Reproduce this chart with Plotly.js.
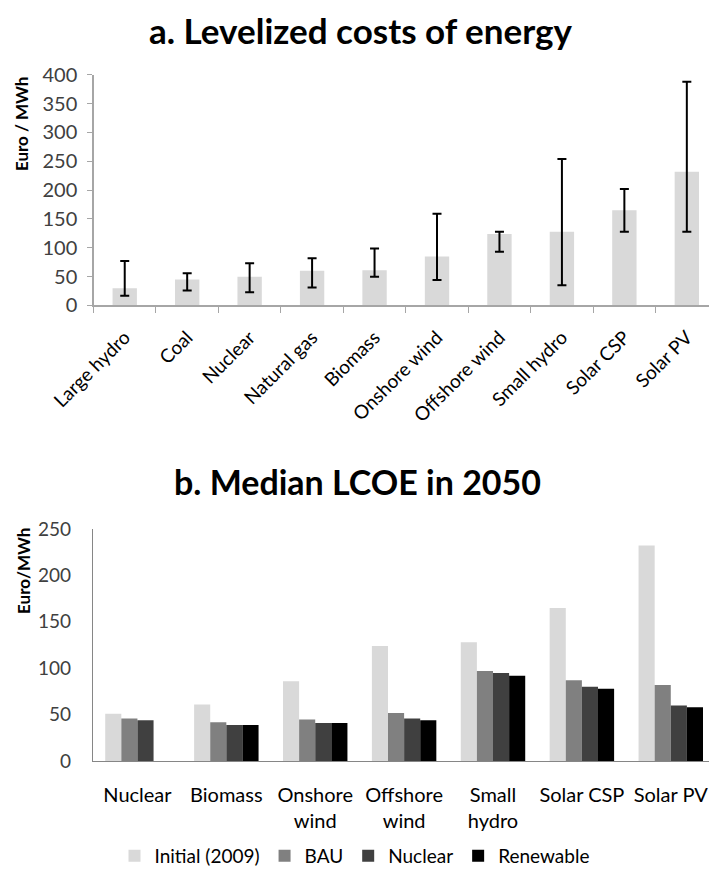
<!DOCTYPE html>
<html>
<head>
<meta charset="utf-8">
<script src="https://cdn.plot.ly/plotly-3.0.1.min.js"></script>
<style>html,body{margin:0;padding:0;background:#fff;}#chart{width:709px;height:875px;}</style>
</head>
<body>
<div id="chart"></div>
<script>
// ---- Data: chart a ----
var techA = ['Large hydro','Coal','Nuclear','Natural gas','Biomass','Onshore wind','Offshore wind','Small hydro','Solar CSP','Solar PV'];
var lcoeMid  = [30, 45, 50, 60, 61, 85, 124, 128, 165, 232];
var lcoeHigh = [77, 56, 73, 82, 99, 159, 128, 254, 202, 388];
var lcoeLow  = [17, 26, 23, 31, 50, 44, 93, 35, 128, 128];

// ---- Data: chart b ----
var techB = ['Nuclear','Biomass','Onshore<br>wind','Offshore<br>wind','Small<br>hydro','Solar CSP','Solar PV'];
var initial2009 = [51, 61, 86, 124, 128, 165, 232];
var bau         = [46, 42, 45, 52, 97, 87, 82];
var nuclearScn  = [44, 39, 41, 46, 95, 80, 60];
var renewable   = [null, 39, 41, 44, 92, 78, 58];

var FONT = 'Lato, "Open Sans", sans-serif';

var errPlus = lcoeHigh.map(function(h,i){return h - lcoeMid[i];});
var errMinus = lcoeLow.map(function(l,i){return lcoeMid[i] - l;});

var traces = [
  {type:'bar', x:techA, y:lcoeMid, xaxis:'x', yaxis:'y', width:0.39, showlegend:false,
   marker:{color:'#d9d9d9'},
   error_y:{type:'data', symmetric:false, array:errPlus, arrayminus:errMinus, color:'#000', thickness:2, width:4.5},
   hoverinfo:'x+y'},
  {type:'bar', name:'Initial (2009)', x:techB, y:initial2009, xaxis:'x2', yaxis:'y2', marker:{color:'#d9d9d9'}},
  {type:'bar', name:'BAU', x:techB, y:bau, xaxis:'x2', yaxis:'y2', marker:{color:'#808080'}},
  {type:'bar', name:'Nuclear', x:techB, y:nuclearScn, xaxis:'x2', yaxis:'y2', marker:{color:'#404040'}},
  {type:'bar', name:'Renewable', x:techB, y:renewable, xaxis:'x2', yaxis:'y2', marker:{color:'#000000'}}
];

var H = 875, W = 709;
function py(p){return (H - p)/H;}
function px(p){return p/W;}

var layout = {
  width:W, height:H,
  margin:{l:0, r:0, t:0, b:0},
  paper_bgcolor:'#fff', plot_bgcolor:'rgba(0,0,0,0)',
  font:{family:FONT, color:'#000', size:17},
  barmode:'group', bargap:0.275, bargroupgap:0,
  showlegend:true,
  legend:{orientation:'h', x:0.5, xanchor:'center', y:py(866), yanchor:'middle',
          font:{size:19, color:'#000', family:FONT}, itemwidth:30, traceorder:'normal'},
  xaxis:{domain:[px(93.5), 1], anchor:'y', type:'category', range:[-0.5, 9.355],
         showline:true, linecolor:'#a6a6a6', linewidth:1.5, ticks:'outside', ticklen:6, tickcolor:'#a6a6a6',
         tickson:'boundaries', tickangle:-45, ticklabelstandoff:12, tickfont:{size:19, color:'#000'},
         showgrid:false, zeroline:false, fixedrange:true},
  yaxis:{domain:[py(309), py(75.7)], anchor:'x', range:[0, 400], dtick:50,
         showline:true, linecolor:'#a6a6a6', linewidth:1.2, ticks:'outside', ticklen:5, tickcolor:'#a6a6a6',
         ticklabelstandoff:6, tickfont:{size:20, color:'#404040'}, showgrid:false, zeroline:false, fixedrange:true},
  xaxis2:{domain:[px(93), 1], anchor:'y2', type:'category', range:[-0.5, 6.43],
          showline:true, linecolor:'#868686', linewidth:1.2, ticks:'', ticklabelstandoff:16,
          tickfont:{size:20, color:'#000'}, showgrid:false, zeroline:false, fixedrange:true},
  yaxis2:{domain:[py(770), py(535)], anchor:'x2', range:[0, 250], dtick:50,
          showline:true, linecolor:'#868686', linewidth:1.2, ticks:'', ticklabelstandoff:17,
          tickfont:{size:19, color:'#404040'}, showgrid:false, zeroline:false, fixedrange:true},
  annotations:[
    {text:'<b>a. Levelized costs of energy</b>', xref:'paper', yref:'paper', x:px(361), y:py(30),
     xanchor:'center', yanchor:'middle', showarrow:false, font:{size:35, family:FONT, color:'#000'}},
    {text:'<b>b. Median LCOE in 2050</b>', xref:'paper', yref:'paper', x:px(357), y:py(487),
     xanchor:'center', yanchor:'middle', showarrow:false, font:{size:34, family:FONT, color:'#000'}},
    {text:'<b>Euro / MWh</b>', xref:'paper', yref:'paper', x:px(21.5), y:py(125), textangle:-90,
     xanchor:'center', yanchor:'middle', showarrow:false, font:{size:17, family:FONT, color:'#000'}},
    {text:'<b>Euro/MWh</b>', xref:'paper', yref:'paper', x:px(23.5), y:py(577), textangle:-90,
     xanchor:'center', yanchor:'middle', showarrow:false, font:{size:17, family:FONT, color:'#000'}}
  ]
};

Plotly.newPlot('chart', traces, layout, {displayModeBar:false, staticPlot:true});
</script>
</body>
</html>
